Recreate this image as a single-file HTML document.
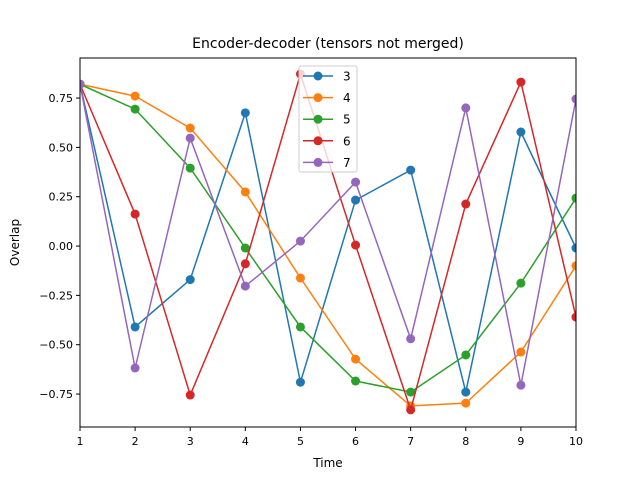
<!DOCTYPE html>
<html><head><meta charset="utf-8"><style>
body{margin:0;background:#fff;}
svg{display:block;font-family:"DejaVu Sans","Liberation Sans",sans-serif;}
</style></head><body>
<svg id="chart" width="640" height="480" xmlns="http://www.w3.org/2000/svg"></svg>
<script>
const xValues=[1,2,3,4,5,6,7,8,9,10];
const seriesNames=["3","4","5","6","7"];
const colors=["#1f77b4","#ff7f0e","#2ca02c","#d62728","#9467bd"];
const s3=[0.82,-0.41,-0.17,0.675,-0.69,0.233,0.385,-0.74,0.578,-0.01];
const s4=[0.82,0.76,0.598,0.274,-0.162,-0.573,-0.81,-0.796,-0.537,-0.10];
const s5=[0.82,0.694,0.395,-0.01,-0.41,-0.684,-0.74,-0.552,-0.188,0.243];
const s6=[0.82,0.162,-0.755,-0.09,0.872,0.005,-0.83,0.213,0.831,-0.36];
const s7=[0.82,-0.618,0.547,-0.203,0.025,0.324,-0.47,0.70,-0.705,0.745];
const xTicks=[1,2,3,4,5,6,7,8,9,10];
const yTicks=[-0.75,-0.5,-0.25,0,0.25,0.5,0.75];
const yTickLabels=["−0.75","−0.50","−0.25","0.00","0.25","0.50","0.75"];
const series=[s3,s4,s5,s6,s7];

const L=80,R=576,T=58,B=427;
const xMin=1,xMax=10,yMin=-0.917,yMax=0.953;
const sx=v=>L+(v-xMin)/(xMax-xMin)*(R-L);
const sy=v=>B-(v-yMin)/(yMax-yMin)*(B-T);
const svg=document.getElementById('chart');
const NS="http://www.w3.org/2000/svg";
function mk(tag,attrs,parent){const e=document.createElementNS(NS,tag);for(const k in attrs)e.setAttribute(k,attrs[k]);(parent||svg).appendChild(e);return e;}

const title=mk('text',{x:(L+R)/2,y:48,'text-anchor':'middle','font-size':14});
title.textContent="Encoder-decoder (tensors not merged)";



const clip=mk('clipPath',{id:'c'});mk('rect',{x:L,y:T,width:R-L,height:B-T},clip);
const plot=mk('g',{'clip-path':'url(#c)'});


series.forEach((s,i)=>{
  const g=mk('g',{},plot);
  
  
  const pl=mk('polyline',{points:s.map((v,j)=>sx(xValues[j])+','+sy(v)).join(' '),fill:'none',stroke:colors[i],'stroke-width':1.5},g);
  
  
  s.forEach((v,j)=>{
    const c=mk('circle',{cx:sx(xValues[j]),cy:sy(v),r:4.5,fill:colors[i]},g);
    
    
  });
});

const frame=mk('rect',{x:L,y:T,width:R-L,height:B-T,fill:'none',stroke:'#000','stroke-width':1});



xTicks.forEach(t=>{
  mk('line',{x1:sx(t),x2:sx(t),y1:B,y2:B+4,stroke:'#000'});
  const tx=mk('text',{x:sx(t),y:B+18,'text-anchor':'middle','font-size':11});
  tx.textContent=t;
  
  
});
yTicks.forEach((t,i)=>{
  mk('line',{x1:L-4,x2:L,y1:sy(t),y2:sy(t),stroke:'#000'});
  const tx=mk('text',{x:L-7,y:sy(t)+4,'text-anchor':'end','font-size':11});
  tx.textContent=yTickLabels[i];
  
  
});
const xl=mk('text',{x:(L+R)/2,y:467,'text-anchor':'middle','font-size':12});
xl.textContent="Time";


const yl=mk('text',{x:0,y:0,'text-anchor':'middle','font-size':12,transform:'translate(19,'+((T+B)/2)+') rotate(-90)'});
yl.textContent="Overlap";



const lg=mk('g',{});


mk('rect',{x:299,y:66,width:58,height:106,rx:2,fill:'#fff','fill-opacity':0.8,stroke:'#ccc'},lg);
seriesNames.forEach((n,i)=>{
  const y=76+i*21.6;
  const e=mk('g',{},lg);
  
  
  mk('line',{x1:303,x2:333,y1:y,y2:y,stroke:colors[i],'stroke-width':1.5},e);
  mk('circle',{cx:318,cy:y,r:4.5,fill:colors[i]},e);
  const t=mk('text',{x:343,y:y+4.5,'font-size':12},e);
  t.textContent=n;
});
</script>
</body></html>
